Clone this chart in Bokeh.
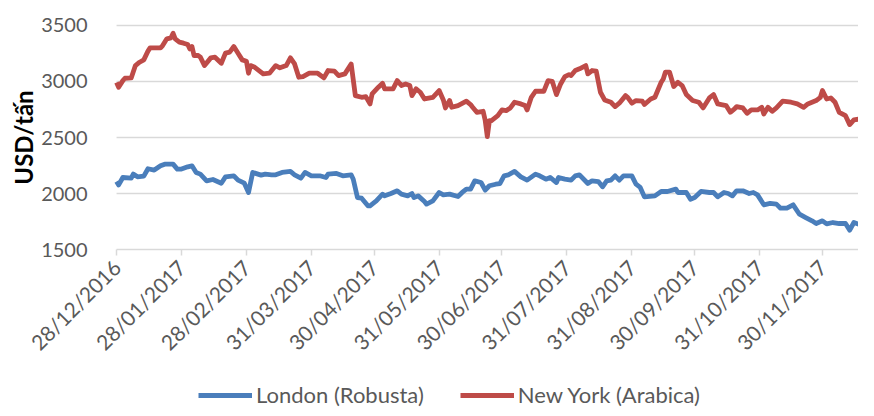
import math
import pandas as pd
from bokeh.plotting import figure
from bokeh.models import (Range1d, FixedTicker, DatetimeTickFormatter, Legend, LegendItem, Label)
from bokeh.embed import file_html
from bokeh.resources import INLINE

start_date = "2016-12-28"
tick_labels = ["28/12/2016", "28/01/2017", "28/02/2017", "31/03/2017", "30/04/2017",
               "31/05/2017", "30/06/2017", "31/07/2017", "31/08/2017", "30/09/2017",
               "31/10/2017", "30/11/2017"]
y_ticks = [1500, 2000, 2500, 3000, 3500]

# New York (Arabica): day offset from start_date, USD/tan
newyork_days = [0, 1, 3, 4, 7, 9, 11, 13, 15, 16, 21, 22, 24, 26, 27, 28, 30, 32, 34, 35, 36, 37, 39, 40,
                42, 45, 47, 50, 52, 54, 56, 58, 60, 62, 63, 64, 66, 68, 70, 73, 76, 78, 81, 83, 85, 87,
                89, 92, 96, 99, 101, 104, 106, 109, 112, 114, 117, 119, 121, 122, 125, 127, 128, 132,
                134, 136, 138, 140, 141, 143, 145, 147, 151, 154, 156, 157, 159, 160, 163, 167, 169,
                170, 172, 175, 176, 177, 178, 179, 182, 184, 186, 188, 190, 193, 195, 196, 198, 200,
                204, 206, 208, 210, 212, 214, 216, 217, 219, 221, 224, 225, 227, 229, 231, 233, 236,
                238, 240, 243, 244, 246, 248, 251, 252, 255, 257, 260, 261, 262, 264, 266, 268, 270,
                272, 275, 278, 280, 283, 285, 287, 291, 293, 295, 296, 299, 301, 303, 306, 308, 309,
                311, 313, 315, 318, 322, 325, 328, 330, 334, 336, 337, 339, 341, 343, 345, 348, 350,
                352, 355, 358, 360, 362]
newyork_usd = [2990, 2949, 3008, 3029, 3032, 3142, 3172, 3193, 3271, 3300, 3300, 3321, 3381, 3390, 3431,
               3381, 3351, 3342, 3330, 3291, 3312, 3232, 3232, 3217, 3142, 3211, 3217, 3163, 3253, 3262,
               3312, 3253, 3193, 3181, 3074, 3142, 3127, 3098, 3068, 3074, 3142, 3122, 3142, 3211, 3157,
               3038, 3044, 3074, 3074, 3032, 3098, 3092, 3053, 3068, 3157, 2874, 2859, 2865, 2800, 2889,
               2949, 2984, 2934, 2934, 3008, 2964, 2978, 2964, 2874, 2934, 2904, 2844, 2859, 2919, 2835,
               2764, 2830, 2770, 2785, 2824, 2794, 2770, 2725, 2734, 2651, 2508, 2651, 2651, 2695, 2746,
               2740, 2764, 2815, 2800, 2785, 2746, 2859, 2913, 2913, 3008, 3002, 2883, 2978, 3044, 3062,
               3053, 3098, 3113, 3142, 3068, 3098, 3092, 2904, 2835, 2815, 2776, 2806, 2874, 2859, 2806,
               2830, 2824, 2794, 2844, 2859, 2993, 3023, 3083, 3083, 2955, 2993, 2964, 2883, 2830, 2815,
               2764, 2853, 2883, 2800, 2785, 2725, 2755, 2776, 2764, 2716, 2746, 2746, 2770, 2710, 2770,
               2734, 2764, 2824, 2815, 2800, 2770, 2800, 2830, 2859, 2919, 2844, 2853, 2815, 2725, 2695,
               2615, 2657, 2666, 2725, 2695, 2651]

# London (Robusta): day offset from start_date, USD/tan
london_days = [0, 1, 3, 7, 8, 10, 13, 15, 18, 21, 23, 27, 29, 31, 34, 36, 38, 40, 43, 46, 50, 52, 56,
               58, 61, 63, 65, 69, 71, 74, 76, 79, 83, 85, 88, 90, 93, 97, 100, 101, 105, 108, 112, 113,
               115, 117, 120, 121, 124, 127, 128, 131, 134, 136, 139, 141, 142, 144, 147, 148, 151, 154,
               156, 159, 163, 165, 167, 169, 171, 174, 176, 178, 181, 183, 185, 187, 190, 193, 196, 200,
               202, 205, 207, 210, 211, 214, 217, 219, 221, 225, 227, 230, 232, 234, 236, 238, 240, 242,
               246, 248, 250, 252, 257, 260, 263, 267, 268, 272, 274, 276, 279, 283, 285, 287, 290, 292,
               294, 296, 299, 302, 304, 306, 309, 312, 315, 317, 320, 323, 326, 329, 332, 334, 337, 339,
               342, 345, 348, 350, 352, 355, 358, 362]
london_usd = [2107, 2077, 2143, 2137, 2173, 2149, 2155, 2221, 2209, 2247, 2262, 2262, 2218, 2218, 2238,
              2247, 2188, 2173, 2113, 2125, 2092, 2149, 2158, 2119, 2092, 2009, 2188, 2164, 2173, 2167,
              2167, 2188, 2197, 2167, 2137, 2188, 2158, 2158, 2143, 2173, 2179, 2158, 2167, 2128, 1964,
              1958, 1890, 1890, 1934, 1994, 1979, 2000, 2024, 1994, 1979, 2000, 1964, 1979, 1928, 1905,
              1934, 2009, 1988, 1994, 1973, 2009, 2039, 2039, 2113, 2098, 2030, 2069, 2083, 2089, 2158,
              2167, 2197, 2149, 2119, 2173, 2158, 2128, 2143, 2098, 2143, 2128, 2119, 2158, 2167, 2089,
              2113, 2107, 2060, 2113, 2119, 2158, 2119, 2158, 2158, 2083, 2054, 1970, 1979, 2018, 2018,
              2039, 2009, 2009, 1949, 1964, 2018, 2009, 2009, 1970, 2009, 2000, 1979, 2024, 2024, 2000,
              2009, 1988, 1899, 1911, 1905, 1869, 1869, 1899, 1815, 1785, 1756, 1732, 1756, 1729, 1741,
              1732, 1732, 1673, 1741, 1720, 1711, 1711]

# view layout: the frame fills the figure; extra room around the data keeps labels inside it
x_pad_days = 55.4
x_span_days = 354.2
y_axis_min = 1500
y_view_min = 80.4
y_view_max = 3723.2
ylabel_x_days = -44.6
ylabel_y = 2500

base = pd.Timestamp(start_date)
ny_dates = base + pd.to_timedelta(newyork_days, unit="D")
ld_dates = base + pd.to_timedelta(london_days, unit="D")
tick_ts = [pd.to_datetime(t, format="%d/%m/%Y") for t in tick_labels]
tick_ms = [t.value / 1e6 for t in tick_ts]
base_ms = base.value / 1e6
end_date = base + pd.Timedelta(days=x_span_days)

FONT = "Lato"
GREY = "#595959"
GRID = "#d9d9d9"

p = figure(width=858, height=408, output_backend="svg", toolbar_location=None,
           x_axis_type="datetime",
           x_range=Range1d(base - pd.Timedelta(days=x_pad_days), end_date),
           y_range=Range1d(y_view_min, y_view_max),
           min_border_left=0, min_border_right=0, min_border_top=0, min_border_bottom=0)
p.outline_line_color = None
p.background_fill_color = "white"
p.border_fill_color = "white"
p.xgrid.grid_line_color = None
p.ygrid.grid_line_color = None

# horizontal gridlines, starting at the first date
n = len(y_ticks)
p.segment(x0=[base] * n, y0=y_ticks, x1=[end_date] * n, y1=y_ticks,
          line_color=GRID, line_width=1.5)

r_ld = p.line(ld_dates, london_usd, line_color="#4a7ebb", line_width=4.8, line_join="round")
r_ny = p.line(ny_dates, newyork_usd, line_color="#be4b48", line_width=4.8, line_join="round")

# x axis, drawn at the 1500 level
xa = p.xaxis[0]
xa.fixed_location = y_axis_min
xa.ticker = FixedTicker(ticks=tick_ms)
fmt = "%d/%m/%Y"
xa.formatter = DatetimeTickFormatter(days=fmt, months=fmt, years=fmt, hours=fmt,
                                     hourmin=fmt, minutes=fmt, minsec=fmt, seconds=fmt,
                                     milliseconds=fmt, microseconds=fmt)
xa.major_label_orientation = math.pi / 4
xa.major_label_text_font = FONT
xa.major_label_text_font_size = "21px"
xa.major_label_text_color = GREY
xa.axis_line_color = None
xa.major_tick_line_color = GRID
xa.major_tick_line_width = 1.5
xa.major_tick_out = 6
xa.major_tick_in = 0
xa.minor_tick_line_color = None
xa.major_label_standoff = 8

# y axis, drawn at the first date
ya = p.yaxis[0]
ya.fixed_location = base_ms
ya.ticker = FixedTicker(ticks=y_ticks)
ya.axis_line_color = None
ya.major_tick_line_color = None
ya.minor_tick_line_color = None
ya.major_label_text_font = FONT
ya.major_label_text_font_size = "20px"
ya.major_label_text_color = GREY
ya.major_label_standoff = 23

ylabel = Label(x=base_ms + ylabel_x_days * 86400000, y=ylabel_y, text="USD/tấn",
               angle=math.pi / 2, text_align="center", text_baseline="middle",
               text_font=FONT, text_font_style="bold", text_font_size="24px",
               text_color="#000000")
p.add_layout(ylabel)

legend = Legend(items=[LegendItem(label="London (Robusta)", renderers=[r_ld]),
                       LegendItem(label="New York (Arabica)", renderers=[r_ny])],
                orientation="horizontal", location=(198, 0),
                padding=0, margin=0, spacing=36, glyph_width=54, glyph_height=22,
                label_standoff=4, label_text_font=FONT, label_text_font_size="22px",
                label_text_color=GREY, border_line_color=None, background_fill_alpha=0)
p.add_layout(legend)

open("out.html", "w").write(file_html(p, INLINE))
